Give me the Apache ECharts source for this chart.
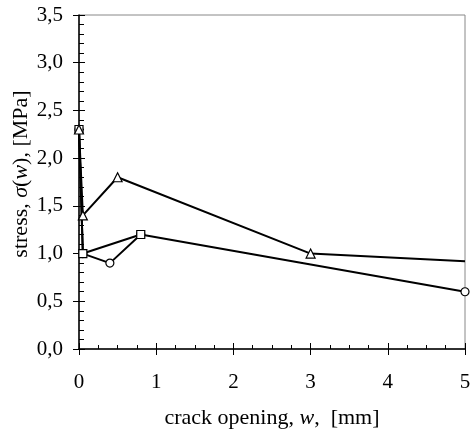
<!DOCTYPE html>
<html><head><meta charset="utf-8">
<script src="https://cdn.jsdelivr.net/npm/echarts@6/dist/echarts.min.js"></script>
<style>html,body{margin:0;padding:0;background:#fff}#c{width:471px;height:432px}</style>
</head><body><div id="c"></div>
<script>
// data
const triangleX = [0, 0.05, 0.5, 3, 5];
const triangleY = [2.3, 1.4, 1.8, 1.0, 0.92];
const squareX = [0, 0.05, 0.8];
const squareY = [2.3, 1.0, 1.2];
const circleX = [0, 0.05, 0.4, 0.8, 5];
const circleY = [2.3, 1.0, 0.9, 1.2, 0.6];
const xTicks = [0, 1, 2, 3, 4, 5];
const yTicks = [0, 0.5, 1, 1.5, 2, 2.5, 3, 3.5];

const font = 'Liberation Serif';
const pairs = (xs, ys) => xs.map((x, i) => [x, ys[i]]);
const fmtY = v => v.toFixed(1).replace('.', ',');

const chart = echarts.init(document.getElementById('c'));
const mk = (name, xs, ys, sym, size, hideLast) => ({
  name, type: 'line', data: pairs(xs, ys).map((p, i) => (hideLast && i === xs.length - 1) ? {value: p, symbol: 'none'} : p),
  symbol: sym, symbolSize: size, showAllSymbol: true,
  lineStyle: {color: '#000', width: 2},
  itemStyle: {color: '#fff', borderColor: '#000', borderWidth: 1.2},
  animation: false, clip: true
});
chart.setOption({
  animation: false,
  grid: {left: 79, right: 6, top: 15, bottom: 83, containLabel: false, outerBoundsMode: 'none',
         show: true, borderColor: '#888', borderWidth: 1, backgroundColor: 'transparent'},
  xAxis: [{
    type: 'value', min: xTicks[0], max: xTicks[xTicks.length - 1], interval: 1,
    axisLine: {show: true, onZero: false, lineStyle: {color: '#000', width: 1.5}},
    axisTick: {show: true, inside: true, length: 6, lineStyle: {color: '#000', width: 1}},
    minorTick: {show: true, splitNumber: 4, length: 4, lineStyle: {color: '#000', width: 1}},
    splitLine: {show: false},
    axisLabel: {show: true, margin: 23, fontFamily: font, fontSize: 21, color: '#000'},
    name: 'crack opening, {i|w},  [mm]', nameLocation: 'middle', nameGap: 58,
    nameTextStyle: {fontFamily: font, fontSize: 22, color: '#000', rich: {i: {fontFamily: font, fontStyle: 'italic', fontSize: 22, color: '#000'}}}
  }, {
    type: 'value', min: 0, max: 5, interval: 1, position: 'bottom',
    axisLine: {show: false}, axisLabel: {show: false}, splitLine: {show: false},
    axisTick: {show: true, inside: false, length: 6, lineStyle: {color: '#000', width: 1}}
  }],
  yAxis: [{
    type: 'value', min: yTicks[0], max: yTicks[yTicks.length - 1], interval: 0.5,
    axisLine: {show: true, onZero: false, lineStyle: {color: '#000', width: 1.5}},
    axisTick: {show: true, inside: true, length: 6, lineStyle: {color: '#000', width: 1}},
    minorTick: {show: true, splitNumber: 5, length: 5, lineStyle: {color: '#000', width: 1}},
    splitLine: {show: false},
    axisLabel: {show: true, margin: 16, fontFamily: font, fontSize: 21, color: '#000', formatter: fmtY}
  }, {
    type: 'value', min: 0, max: 3.5, interval: 0.5, position: 'left',
    axisLine: {show: false}, axisLabel: {show: false}, splitLine: {show: false},
    axisTick: {show: true, inside: false, length: 6, lineStyle: {color: '#000', width: 1}}
  }],
  graphic: [{
    type: 'text', x: 21, y: 174, rotation: Math.PI / 2,
    style: {
      text: 'stress, {i|σ}({i|w}), [MPa]', fill: '#000', font: '22px "Liberation Serif"',
      align: 'center', verticalAlign: 'middle',
      rich: {i: {fontFamily: font, fontStyle: 'italic', fontSize: 22, fill: '#000'}}
    }
  }],
  series: [
    mk('circle', circleX, circleY, 'circle', 8, false),
    mk('square', squareX, squareY, 'rect', 8, false),
    mk('triangle', triangleX, triangleY, 'triangle', 9, true)
  ]
});
</script></body></html>
